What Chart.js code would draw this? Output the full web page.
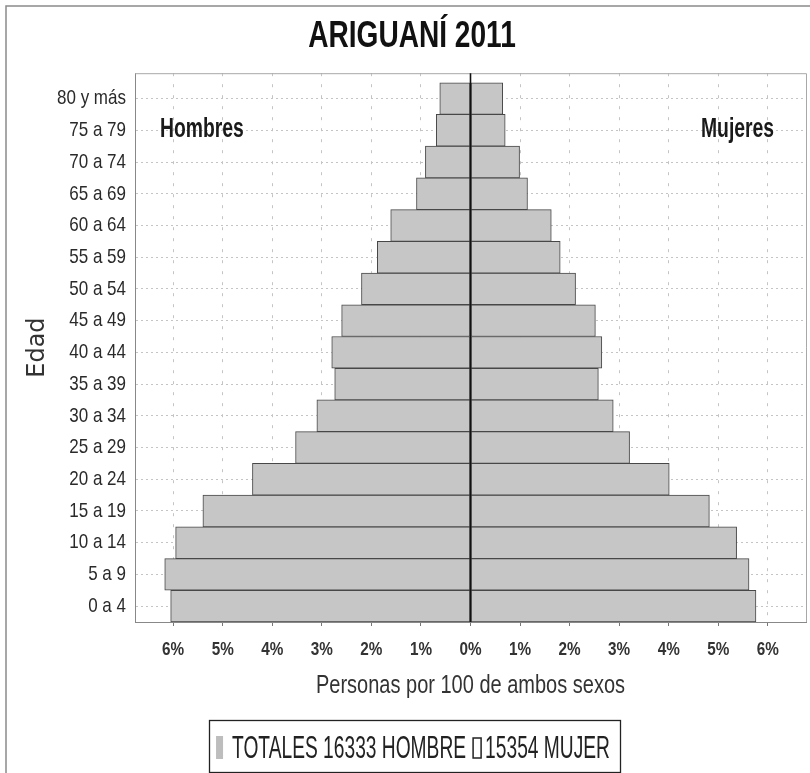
<!DOCTYPE html>
<html>
<head>
<meta charset="utf-8">
<title>Ariguaní 2011</title>
<script src="https://cdn.jsdelivr.net/npm/chart.js@4.4.0/dist/chart.umd.min.js"></script>
<style>
  html, body { margin: 0; padding: 0; background: #fff; overflow: hidden; }
  #wrap { width: 830px; height: 773px; }
</style>
</head>
<body>
<div id="wrap"><canvas id="piramide" width="830" height="773"></canvas></div>
<script>
// grupos de edad, de abajo hacia arriba
const edades = ["0 a 4", "5 a 9", "10 a 14", "15 a 19", "20 a 24", "25 a 29", "30 a 34", "35 a 39",
    "40 a 44", "45 a 49", "50 a 54", "55 a 59", "60 a 64", "65 a 69", "70 a 74", "75 a 79", "80 y más"];
// % de la población total
const hombres = [6.05, 6.17, 5.95, 5.40, 4.40, 3.53, 3.10, 2.74, 2.80, 2.60, 2.20, 1.88, 1.61, 1.09, 0.91, 0.69, 0.62];
const mujeres = [5.76, 5.62, 5.37, 4.82, 4.01, 3.21, 2.88, 2.58, 2.65, 2.52, 2.12, 1.81, 1.63, 1.15, 0.99, 0.70, 0.65];
const marcasX = [-6, -5, -4, -3, -2, -1, 0, 1, 2, 3, 4, 5, 6];
const leyenda = ["TOTALES 16333 HOMBRE", "15354 MUJER"];
const sexos = ["Hombres", "Mujeres"];
const titulo = "ARIGUANÍ 2011";
const tituloX = "Personas por 100 de ambos sexos";
const tituloY = "Edad";

const FUENTE = "'Liberation Sans', Arial, sans-serif";

// el original usa una letra angosta y alta: se comprime en horizontal segun el tamaño
const ESTRECHO = { 36: 0.78, 28: 0.69, 25: 0.8, 21: 0.81, 18: 0.85, 32: 0.6 };
const proto = CanvasRenderingContext2D.prototype;
const fillOrig = proto.fillText;
const medirOrig = proto.measureText;
function factor(ctx) {
    if (ctx.font.indexOf("Liberation Sans") < 0) return 1;
    const m = ctx.font.match(/(\d+(?:\.\d+)?)px/);
    return (m && ESTRECHO[Math.round(parseFloat(m[1]))]) || 1;
}
proto.fillText = function (t, x, y, maxW) {
    const f = factor(this);
    if (f === 1) return fillOrig.apply(this, arguments);
    this.save();
    this.translate(x, y);
    this.scale(f, 1);
    if (maxW === undefined) fillOrig.call(this, t, 0, 0);
    else fillOrig.call(this, t, 0, 0, maxW / f);
    this.restore();
};
proto.measureText = function (t) {
    const m = medirOrig.call(this, t);
    const f = factor(this);
    if (f === 1) return m;
    return {
        width: m.width * f,
        actualBoundingBoxLeft: m.actualBoundingBoxLeft * f,
        actualBoundingBoxRight: m.actualBoundingBoxRight * f,
        actualBoundingBoxAscent: m.actualBoundingBoxAscent,
        actualBoundingBoxDescent: m.actualBoundingBoxDescent,
    };
};

const marco = {
    id: "marco",
    beforeDraw(chart) {
        const ctx = chart.ctx;
        ctx.save();
        ctx.fillStyle = "#fff";
        ctx.fillRect(0, 0, chart.width, chart.height);
        ctx.strokeStyle = "#8a8a8a";
        ctx.lineWidth = 1.5;
        ctx.strokeRect(6, 6, chart.width + 20, chart.height + 20);
        ctx.restore();
    },
    afterDatasetsDraw(chart) {
        const ctx = chart.ctx;
        const a = chart.chartArea;
        const x0 = chart.scales.x.getPixelForValue(0);
        ctx.save();
        // borde superior y derecho del área
        ctx.strokeStyle = "#a8a8a8";
        ctx.lineWidth = 1;
        ctx.beginPath();
        ctx.moveTo(a.left, a.top + 0.5);
        ctx.lineTo(a.right + 0.5, a.top + 0.5);
        ctx.lineTo(a.right + 0.5, a.bottom);
        ctx.stroke();
        // eje central
        ctx.strokeStyle = "#111";
        ctx.lineWidth = 1.6;
        ctx.beginPath();
        ctx.moveTo(x0, a.top);
        ctx.lineTo(x0, a.bottom);
        ctx.stroke();
        // rótulos Hombres / Mujeres
        ctx.fillStyle = "#1a1a1a";
        ctx.font = "bold 28px " + FUENTE;
        ctx.textBaseline = "middle";
        ctx.textAlign = "left";
        ctx.fillText(sexos[0], a.left + 25, a.top + 56);
        ctx.textAlign = "right";
        ctx.fillText(sexos[1], a.right - 32, a.top + 56);
        ctx.restore();
    },
    afterDraw(chart) {
        // leyenda con recuadro
        const ctx = chart.ctx;
        ctx.save();
        ctx.font = "32px " + FUENTE;
        ctx.textBaseline = "middle";
        ctx.textAlign = "left";
        const w1 = ctx.measureText(leyenda[0]).width;
        const w2 = ctx.measureText(leyenda[1]).width;
        const total = 7 + 9 + w1 + 7 + 8 + 4 + w2;
        const yc = chart.height - 25;
        let x = chart.width / 2 - 2 - total / 2;
        ctx.strokeStyle = "#222";
        ctx.lineWidth = 1.3;
        ctx.strokeRect(Math.round(x - 7) + 0.5, yc - 28 + 0.5, Math.round(total + 17), 52);
        ctx.fillStyle = "#bdbdbd";
        ctx.fillRect(x, yc - 12, 7, 23);
        x += 16;
        ctx.fillStyle = "#222";
        ctx.fillText(leyenda[0], x, yc + 1);
        x += w1 + 7;
        ctx.fillStyle = "#fff";
        ctx.fillRect(x, yc - 10, 8, 20);
        ctx.lineWidth = 1.5;
        ctx.strokeRect(x, yc - 10, 8, 20);
        x += 12;
        ctx.fillStyle = "#222";
        ctx.fillText(leyenda[1], x, yc + 1);
        ctx.restore();
    },
};

new Chart(document.getElementById("piramide"), {
    type: "bar",
    data: {
        datasets: [
            {
                label: leyenda[0],
                data: hombres.map((v, i) => ({ x: -v, y: i })),
                backgroundColor: "#c6c6c6",
                borderColor: "#474747",
                borderWidth: 1,
                borderSkipped: false,
                grouped: false,
                barPercentage: 1,
                categoryPercentage: 1,
            },
            {
                label: leyenda[1],
                data: mujeres.map((v, i) => ({ x: v, y: i })),
                backgroundColor: "#c6c6c6",
                borderColor: "#474747",
                borderWidth: 1,
                borderSkipped: false,
                grouped: false,
                barPercentage: 1,
                categoryPercentage: 1,
            },
        ],
    },
    options: {
        indexAxis: "y",
        responsive: false,
        animation: false,
        layout: { padding: { left: 18, right: 24, top: 0, bottom: 40 } },
        plugins: {
            title: {
                display: true,
                text: titulo,
                color: "#111",
                font: { family: FUENTE, size: 36, weight: "bold" },
                padding: { top: 15, bottom: 15 },
            },
            legend: { display: false },
            tooltip: { enabled: false },
        },
        scales: {
            x: {
                type: "linear",
                min: -6.77,
                max: 6.77,
                afterBuildTicks: (s) => {
                    s.ticks = marcasX.map((v) => ({ value: v }));
                },
                afterFit: (s) => {
                    s.height = 111;
                },
                ticks: {
                    callback: (v) => Math.abs(v) + "%",
                    padding: 13,
                    color: "#333",
                    font: { family: FUENTE, size: 18, weight: "bold" },
                },
                grid: {
                    color: (c) => (c.tick && c.tick.value === 0 ? "rgba(0,0,0,0)" : "#c4c4c4"),
                    tickLength: 4,
                    tickColor: "#777",
                    tickBorderDash: [],
                },
                border: { display: true, color: "#888", dash: [3, 8] },
                title: {
                    display: true,
                    text: tituloX,
                    color: "#333",
                    font: { family: FUENTE, size: 25 },
                    padding: { top: 4, bottom: 32 },
                },
            },
            y: {
                type: "linear",
                min: -0.5,
                max: 16.8,
                offset: false,
                afterBuildTicks: (s) => {
                    s.ticks = edades.map((e, i) => ({ value: i }));
                },
                afterFit: (s) => {
                    s.width = 117;
                },
                ticks: {
                    callback: (v) => edades[v],
                    autoSkip: false,
                    padding: 9,
                    color: "#2a2a2a",
                    font: { family: FUENTE, size: 21 },
                },
                grid: { color: "#c4c4c4", drawTicks: false, offset: false },
                border: { display: true, color: "#888", dash: [2, 3] },
                title: {
                    display: true,
                    text: tituloY,
                    color: "#333",
                    font: { family: "'DejaVu Sans', sans-serif", size: 24 },
                    padding: { top: 5 },
                },
            },
        },
    },
    plugins: [marco],
});
</script>
</body>
</html>
